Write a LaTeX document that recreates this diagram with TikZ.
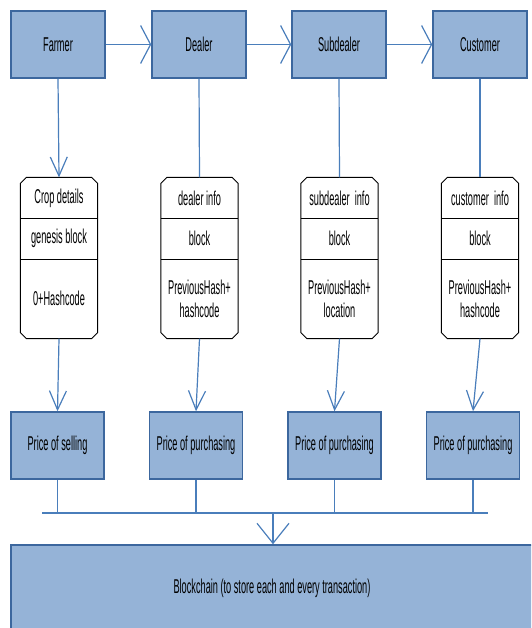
\documentclass[tikz,border=0pt]{standalone}
\usepackage{fontspec}
\setmainfont{Liberation Sans}[FakeStretch=0.46]
\usetikzlibrary{arrows.meta}
\definecolor{cfill}{HTML}{95B3D7}
\definecolor{cedge}{HTML}{3C679E}
\definecolor{cline}{HTML}{4A7EBB}
\tikzset{
  every picture/.style={line width=1.2pt},
  actor/.style={draw=cedge, fill=cfill, line width=1.5pt, minimum width=94pt, minimum height=67pt, inner sep=2pt, align=center},
  price/.style={actor, minimum width=93pt},
  chainbox/.style={actor, minimum width=522pt, minimum height=86pt},
  blockframe/.style={inner sep=0pt, minimum width=76pt, minimum height=160pt},
  frameline/.style={draw=black, fill=white, line width=0.9pt},
  rowtxt/.style={inner sep=0pt, align=center},
  link/.style={draw=cline, line width=1.2pt},
  varr/.style={link, -{Straight Barb[length=19pt, width=17pt]}},
  harr/.style={link, -{Straight Barb[length=10pt, width=38pt]}},
  barr/.style={link, -{Straight Barb[length=20pt, width=32pt]}},
}

\begin{document}
\begin{tikzpicture}[x=1pt, y=-1pt, font=\fontsize{20}{23}\selectfont]
  \clip (0,0) rectangle (531,628);
  \newcommand{\chainblock}[5]{% name, x, top row, middle row, bottom row
    \node[blockframe] (#1) at (#2,258) {};
    \draw[frameline] ([xshift=6pt]#1.north west) -- ([xshift=-6pt]#1.north east)
      -- ([yshift=-6pt]#1.north east) -- ([yshift=6pt]#1.south east)
      -- ([xshift=-6pt]#1.south east) -- ([xshift=6pt]#1.south west)
      -- ([yshift=6pt]#1.south west) -- ([yshift=-6pt]#1.north west) -- cycle;
    \node[rowtxt] (#1-a) at (#2,198) {#3};
    \node[rowtxt] (#1-b) at (#2,238.5) {#4};
    \node[rowtxt] (#1-c) at (#2,298.5) {#5};
    \draw[line width=0.9pt] (#1.west |- 0,218) -- (#1.east |- 0,218);
    \draw[line width=0.9pt] (#1.west |- 0,259) -- (#1.east |- 0,259);
  }

  % ---- actors
  \node[actor] (farmer)    at (58,44.5)  {Farmer};
  \node[actor] (dealer)    at (199,44.5) {Dealer};
  \node[actor] (subdealer) at (339,44.5) {Subdealer};
  \node[actor] (customer)  at (480,44.5) {Customer};

  % ---- blocks
  \chainblock{crop}{59}{Crop details}{genesis block}{0+Hashcode}
  \chainblock{dinfo}{199.5}{dealer info}{block}{PreviousHash+\\hashcode}
  \chainblock{sinfo}{339.5}{subdealer\ \ info}{block}{PreviousHash+\\location}
  \chainblock{cinfo}{480}{customer\ \ info}{block}{PreviousHash+\\hashcode}

  % ---- prices
  \node[price] (psell) at (57.5,445.5) {Price of selling};
  \node[price] (pbuyd) at (196,445.5)  {Price of purchasing};
  \node[price] (pbuys) at (334.5,445.5) {Price of purchasing};
  \node[price] (pbuyc) at (473,445.5)  {Price of purchasing};

  % ---- blockchain
  \coordinate (busl) at (42,513);
  \coordinate (busr) at (488,513);
  \coordinate (busm) at (273,513);
  \node[chainbox] (chain) at (272,588) {Blockchain (to store each and every transaction)};

  \draw[harr] (farmer.east) -- (dealer.west);
  \draw[harr] (dealer.east) -- (subdealer.west);
  \draw[harr] (subdealer.east) -- (customer.west);

  \draw[varr] (farmer.south) -- (crop.north);
  \draw[link] (dealer.south) -- (dinfo.north);
  \draw[link] (subdealer.south) -- (sinfo.north);
  \draw[link] (customer.south) -- (cinfo.north);

  \draw[varr] (crop.south) -- (psell.north);
  \draw[varr] (dinfo.south) -- (pbuyd.north);
  \draw[varr] (sinfo.south) -- (pbuys.north);
  \draw[varr] (cinfo.south) -- (pbuyc.north);

  \draw[link] (psell.south) -- (psell.south |- busm);
  \draw[link] (pbuyd.south) -- (pbuyd.south |- busm);
  \draw[link] (pbuys.south) -- (pbuys.south |- busm);
  \draw[link] (pbuyc.south) -- (pbuyc.south |- busm);
  \draw[link] (busl) -- (busr);
  \draw[barr] (busm) -- (busm |- chain.north);
\end{tikzpicture}
\end{document}
